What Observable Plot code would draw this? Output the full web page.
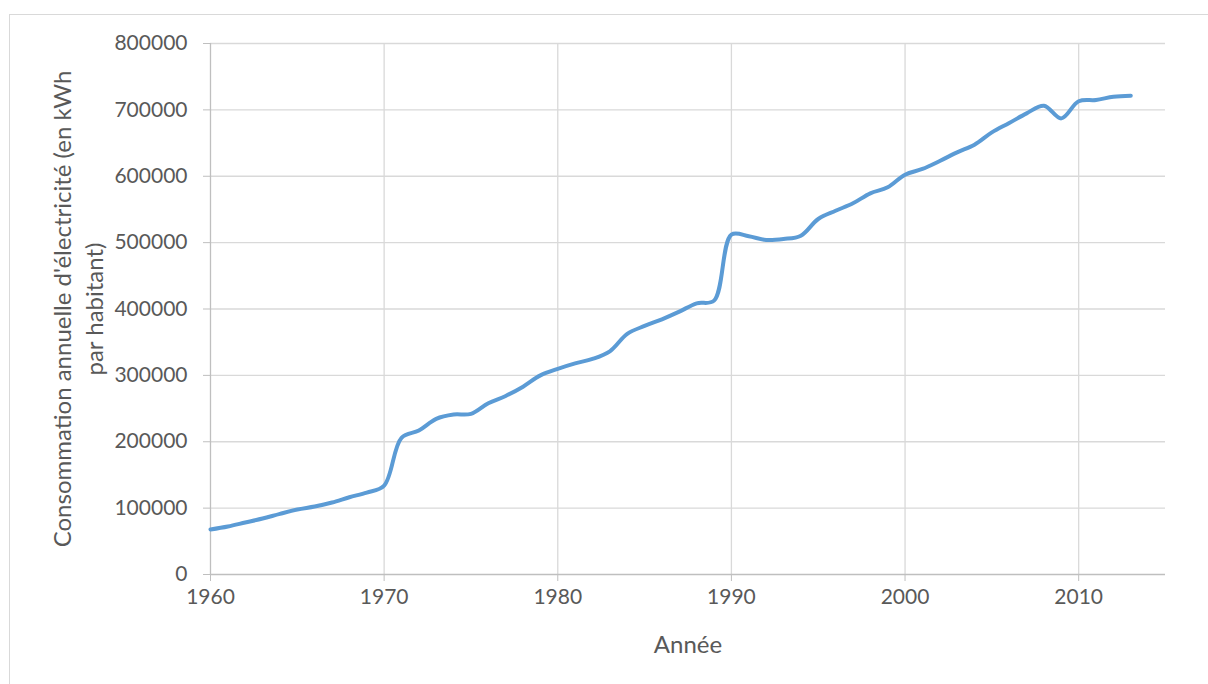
<!DOCTYPE html>
<html>
<head>
<meta charset="utf-8">
<script src="https://cdn.jsdelivr.net/npm/d3@7"></script>
<script src="https://cdn.jsdelivr.net/npm/@observablehq/plot@0.6"></script>
<style>
  html, body { margin: 0; padding: 0; background: #fff; width: 1208px; height: 684px; overflow: hidden; }
  #frame { position: absolute; left: 9px; top: 14px; width: 1400px; height: 900px; border: 1px solid #d9d9d9; }
  #chart { position: absolute; left: 0; top: 0; }
</style>
</head>
<body>
<div id="frame"></div>
<div id="chart"></div>
<script>
const years = [1960,1961,1962,1963,1964,1965,1966,1967,1968,1969,
  1970,1971,1972,1973,1974,1975,1976,1977,1978,1979,
  1980,1981,1982,1983,1984,1985,1986,1987,1988,1989,
  1990,1991,1992,1993,1994,1995,1996,1997,1998,1999,
  2000,2001,2002,2003,2004,2005,2006,2007,2008,2009,
  2010,2011,2012,2013];
const consumption = [67800,72300,78300,84300,91400,97900,102400,108400,116400,123500,
  134000,206000,217000,234500,241000,242000,258000,269000,283000,300000,
  309800,318000,324800,336300,362500,374500,384500,396000,408600,412600,
  512000,509500,504000,505500,510500,535600,548000,559200,574300,583300,
  602400,611000,623000,636000,647600,666100,680200,694700,706300,687200,
  713000,714900,719900,721400];
const xTicks = [1960,1970,1980,1990,2000,2010];
const yTicks = [0,100000,200000,300000,400000,500000,600000,700000,800000];
const yLabel = "Consommation annuelle d'électricité (en kWh\npar habitant)";
const xLabel = "Année";

const data = years.map((y, i) => ({year: y, value: consumption[i]}));

const chart = Plot.plot({
  width: 1208,
  height: 684,
  marginLeft: 210,
  marginRight: 43,
  marginTop: 43,
  marginBottom: 110,
  style: {fontFamily: "Lato, 'Open Sans', sans-serif", fontSize: "21px", color: "#595959", background: "transparent"},
  x: {domain: [1960, 2015], label: null},
  y: {domain: [0, 800000], label: null},
  marks: [
    Plot.ruleY(yTicks.slice(1), {stroke: "#d9d9d9", strokeWidth: 1.3}),
    Plot.ruleX(xTicks.slice(1), {stroke: "#d9d9d9", strokeWidth: 1.3}),
    Plot.axisY({ticks: yTicks, tickFormat: d => String(d), tickSize: 7, tickPadding: 16, stroke: "#bfbfbf", fill: "#595959", fontSize: 21, label: null}),
    Plot.axisX({ticks: xTicks, tickFormat: d => String(d), tickSize: 7, tickPadding: 8, stroke: "#bfbfbf", fill: "#595959", fontSize: 21, label: null}),
    Plot.ruleX([1960], {stroke: "#bfbfbf", strokeWidth: 1.3}),
    Plot.ruleY([0], {stroke: "#bfbfbf", strokeWidth: 1.3}),
    Plot.line(data, {x: "year", y: "value", stroke: "#5b9bd5", strokeWidth: 4, curve: "catmull-rom"}),
    Plot.text([yLabel], {frameAnchor: "left", textAnchor: "middle", dx: -134, rotate: -90, fill: "#595959", fontSize: 24, lineHeight: 1.35}),
    Plot.text([xLabel], {frameAnchor: "bottom", textAnchor: "middle", dy: 78, fill: "#595959", fontSize: 24})
  ]
});
document.getElementById("chart").appendChild(chart);
</script>
</body>
</html>
